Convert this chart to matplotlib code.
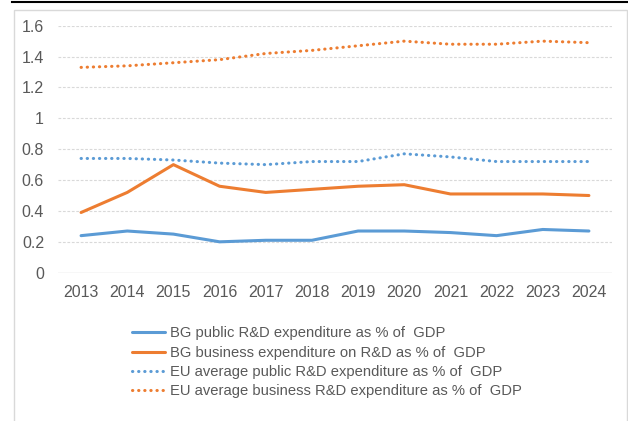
import matplotlib
matplotlib.use("Agg")
import matplotlib.pyplot as plt
from matplotlib.lines import Line2D
from matplotlib.patches import Rectangle

years = ["2013", "2014", "2015", "2016", "2017", "2018", "2019", "2020", "2021", "2022", "2023", "2024"]
bg_public = [0.24, 0.27, 0.25, 0.20, 0.21, 0.21, 0.27, 0.27, 0.26, 0.24, 0.28, 0.27]
bg_business = [0.39, 0.52, 0.70, 0.56, 0.52, 0.54, 0.56, 0.57, 0.51, 0.51, 0.51, 0.50]
eu_public = [0.74, 0.74, 0.73, 0.71, 0.70, 0.72, 0.72, 0.77, 0.75, 0.72, 0.72, 0.72]
eu_business = [1.33, 1.34, 1.36, 1.38, 1.42, 1.44, 1.47, 1.50, 1.48, 1.48, 1.50, 1.49]
labels = ["BG public R&D expenditure as % of  GDP",
          "BG business expenditure on R&D as % of  GDP",
          "EU average public R&D expenditure as % of  GDP",
          "EU average business R&D expenditure as % of  GDP"]
yticks = [0, 0.2, 0.4, 0.6, 0.8, 1, 1.2, 1.4, 1.6]
ytick_labels = ["0", "0.2", "0.4", "0.6", "0.8", "1", "1.2", "1.4", "1.6"]

BLUE = "#5B9BD5"
ORANGE = "#ED7D31"
TEXT = "#595959"
GRID = "#D9D9D9"

plt.rcParams['font.family'] = ['Liberation Sans', 'DejaVu Sans']

W, H = 628, 421
fig = plt.figure(figsize=(W / 100, H / 100), dpi=100)
fig.patch.set_facecolor("white")

# outer chart border and top black rule
fig.patches.append(Rectangle((13.5 / W, -0.05), (626.5 - 13.5) / W, 1 - 10 / H + 0.05,
                             transform=fig.transFigure, fill=False, edgecolor=GRID, lw=1.0))
fig.lines.append(Line2D([12 / W, 1.0], [1 - 1.7 / H, 1 - 1.7 / H], transform=fig.transFigure,
                        color="black", lw=1.5))

ax = fig.add_axes([58 / W, (H - 272.7) / H, (612 - 58) / W, (272.7 - 25.7) / H])
x = list(range(len(years)))
ax.plot(x, bg_public, color=BLUE, lw=2.2, solid_capstyle="round", label=labels[0])
ax.plot(x, bg_business, color=ORANGE, lw=2.2, solid_capstyle="round", label=labels[1])
ax.plot(x, eu_public, color=BLUE, lw=2.2, linestyle=(0, (0.1, 1.9)), dash_capstyle="round", label=labels[2])
ax.plot(x, eu_business, color=ORANGE, lw=2.2, linestyle=(0, (0.1, 1.9)), dash_capstyle="round", label=labels[3])

ax.set_xlim(-0.5, len(years) - 0.5)
ax.set_ylim(0, 1.6)
ax.set_xticks(x)
ax.set_xticklabels(years)
ax.set_yticks(yticks)
ax.set_yticklabels(ytick_labels)
for s in ax.spines.values():
    s.set_visible(False)
ax.tick_params(axis="both", length=0, colors=TEXT, labelsize=11.5)
ax.tick_params(axis="y", pad=10)
ax.tick_params(axis="x", pad=9)
for yv in yticks[1:]:
    ax.axhline(yv, color=GRID, lw=0.8, linestyle=(0, (2.5, 1.5)), zorder=0)
ax.axhline(0, color=GRID, lw=1.0, zorder=0)

leg = fig.legend(loc="upper left", bbox_to_anchor=(132 / W, 1 - 326.5 / H), frameon=False,
                 fontsize=10.6, handlelength=2.25, handletextpad=0.3, labelspacing=0.36,
                 borderaxespad=0, borderpad=0)
for t in leg.get_texts():
    t.set_color(TEXT)

fig.savefig("out.png", dpi=100)
